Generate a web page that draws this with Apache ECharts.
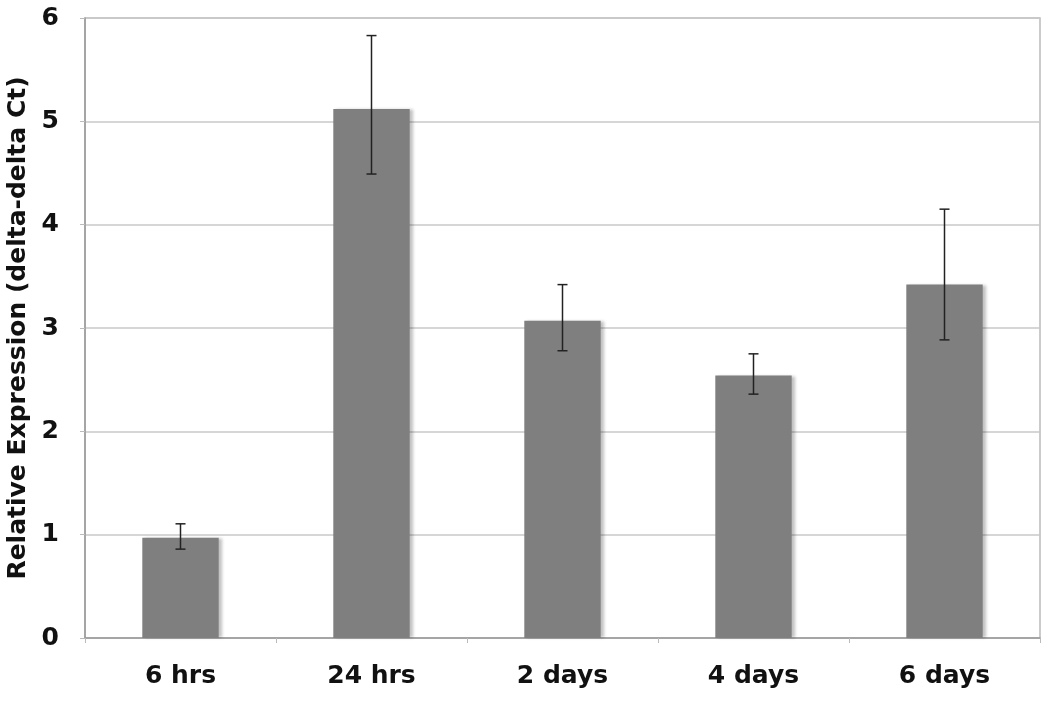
<!DOCTYPE html>
<html><head><meta charset="utf-8">
<script src="https://cdn.jsdelivr.net/npm/echarts@6/dist/echarts.min.js"></script>
<style>html,body{margin:0;padding:0;background:#fff}#c{width:1050px;height:701px}</style>
</head><body><div id="c"></div>
<script>
const categories = ['6 hrs', '24 hrs', '2 days', '4 days', '6 days'];
const values = [0.97, 5.12, 3.07, 2.54, 3.42];
const errHigh = [1.105, 5.83, 3.42, 2.75, 4.15];
const errLow = [0.86, 4.49, 2.78, 2.36, 2.885];
const yTicks = [0, 1, 2, 3, 4, 5, 6];

const chart = echarts.init(document.getElementById('c'));
const font = 'DejaVu Sans';
chart.setOption({
  animation: false,
  grid: { left: 85, right: 10, top: 18, bottom: 63, show: true, borderColor: '#bbb', borderWidth: 1.5, outerBoundsMode: 'none', containLabel: false },
  xAxis: {
    type: 'category', data: categories,
    axisLine: { lineStyle: { color: '#999', width: 1.5 } },
    axisTick: { show: true, length: 5, lineStyle: { color: '#bbb' } },
    axisLabel: { color: '#111', fontFamily: font, fontWeight: 'bold', fontSize: 25, margin: 26 }
  },
  yAxis: {
    type: 'value', min: yTicks[0], max: yTicks[yTicks.length - 1], interval: 1,
    name: 'Relative Expression (delta-delta Ct)', nameLocation: 'middle', nameGap: 52,
    nameTextStyle: { color: '#111', fontFamily: font, fontWeight: 'bold', fontSize: 25 },
    axisLine: { show: true, lineStyle: { color: '#999', width: 1.5 } },
    axisTick: { show: true, length: 5, lineStyle: { color: '#bbb' } },
    splitLine: { lineStyle: { color: '#c8c8c8', width: 1.5 } },
    axisLabel: { color: '#111', fontFamily: font, fontWeight: 'bold', fontSize: 25, margin: 26 }
  },
  series: [
    {
      type: 'bar', data: values, barWidth: '40%',
      itemStyle: { color: '#7f7f7f', shadowColor: 'rgba(0,0,0,0.25)', shadowBlur: 3, shadowOffsetX: 3, shadowOffsetY: 0 }
    },
    {
      type: 'custom', z: 10,
      data: categories.map((c, i) => [i, errLow[i], errHigh[i]]),
      renderItem: function (params, api) {
        const x = api.value(0);
        const lo = api.coord([x, api.value(1)]);
        const hi = api.coord([x, api.value(2)]);
        const hw = 5;
        const st = { stroke: '#222', lineWidth: 1.5 };
        return { type: 'group', children: [
          { type: 'line', shape: { x1: hi[0], y1: hi[1], x2: lo[0], y2: lo[1] }, style: st },
          { type: 'line', shape: { x1: hi[0] - hw, y1: hi[1], x2: hi[0] + hw, y2: hi[1] }, style: st },
          { type: 'line', shape: { x1: lo[0] - hw, y1: lo[1], x2: lo[0] + hw, y2: lo[1] }, style: st }
        ]};
      }
    }
  ]
});
</script></body></html>
